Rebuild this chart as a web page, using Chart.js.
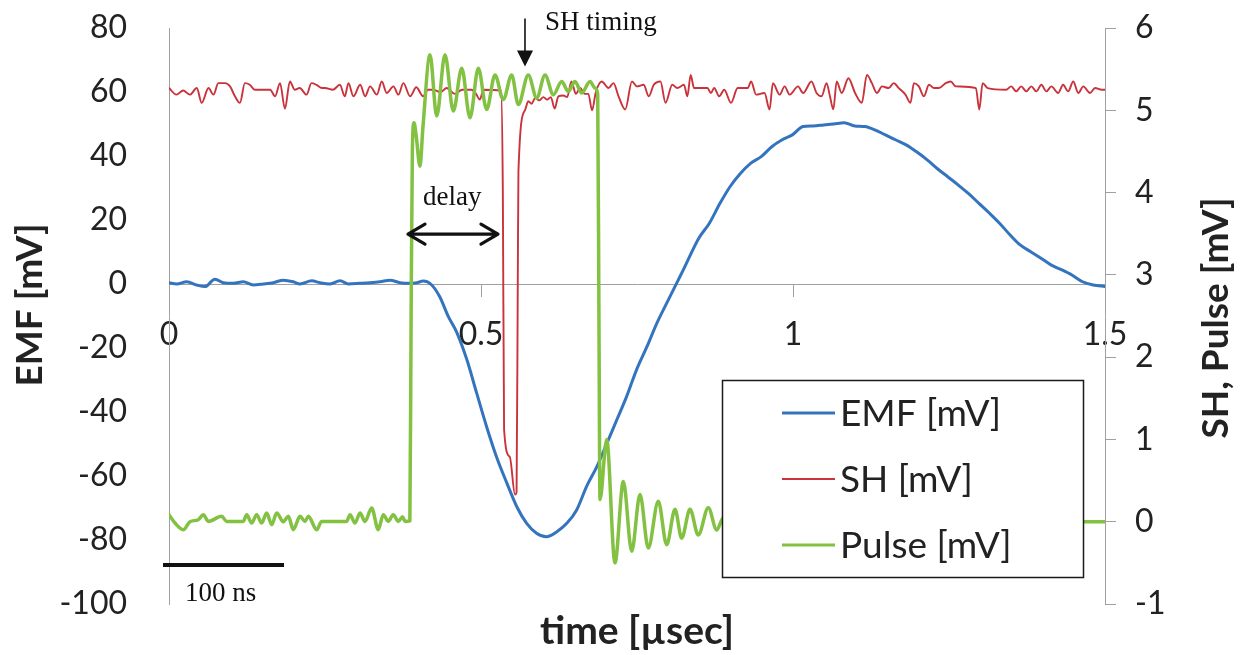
<!DOCTYPE html>
<html>
<head>
<meta charset="utf-8">
<script src="https://cdn.jsdelivr.net/npm/chart.js@4.4.1/dist/chart.umd.min.js"></script>
<style>
  html, body { margin: 0; padding: 0; background: #fff; }
  #wrap { width: 1246px; height: 655px; }
</style>
</head>
<body>
<div id="wrap"><canvas id="myChart" width="1246" height="655"></canvas></div>
<script>
'use strict'

// series names, in legend order
const seriesNames = ['EMF [mV]', 'SH [mV]', 'Pulse [mV]']

// [time µsec, mV]
const emfTrace = [
	[0, 0.4], [0.0123, 0.0], [0.0284, 0.7], [0.0444, -0.3], [0.0577, -0.8], [0.0737, 1.5], [0.087, 0.4],
	[0.1031, 0.2], [0.1191, 0.7], [0.1351, -0.3], [0.1511, 0.0], [0.1671, 0.4], [0.1832, 1.2], [0.1992, 0.7],
	[0.2099, 0.0], [0.2287, 1.0], [0.242, 0.4], [0.258, 0.0], [0.2741, 1.0], [0.2874, 0.0], [0.3061, 0.2],
	[0.3221, 0.4], [0.3381, 0.7], [0.3542, 1.2], [0.3702, 0.4], [0.3862, 0.2], [0.3969, 0.4], [0.4076, 0.9],
	[0.421, -0.3], [0.4339, -4], [0.4477, -10.2], [0.4606, -14.9], [0.4774, -23.7], [0.4932, -34.2],
	[0.509, -44.6], [0.5248, -54], [0.5416, -62.3], [0.5574, -69.6], [0.5732, -74.8], [0.589, -77.9],
	[0.6048, -79], [0.6216, -77.4], [0.6375, -74.8], [0.6533, -70.6], [0.6691, -63.3], [0.6859, -57],
	[0.7017, -49.8], [0.7175, -42.5], [0.7333, -35.2], [0.7491, -26.9], [0.7659, -19.6], [0.7817, -12.3],
	[0.7976, -6], [0.8134, 0.2], [0.8242, 4.4], [0.849, 14.3], [0.866, 19], [0.883, 25.2], [0.899, 30.4],
	[0.916, 34.6], [0.932, 37.7], [0.949, 39.8], [0.966, 42.9], [0.982, 45], [0.999, 46.6], [1.016, 49.2],
	[1.032, 49.4], [1.049, 49.7], [1.065, 50], [1.082, 50.4], [1.099, 49.4], [1.115, 49.2], [1.132, 48.1],
	[1.148, 46.6], [1.165, 45], [1.182, 43.4], [1.198, 41.3], [1.215, 38.8], [1.231, 36.1], [1.248, 33.5],
	[1.265, 30.9], [1.281, 28.3], [1.298, 25.2], [1.315, 22.1], [1.331, 19], [1.348, 15.3], [1.364, 12.2],
	[1.381, 10.1], [1.398, 8], [1.414, 5.9], [1.431, 4.4], [1.447, 2.8], [1.464, 0.7], [1.481, -0.3], [1.5, -0.8]
]

const shTrace = [
	[0, 5.27], [0.0119, 5.19], [0.0227, 5.24], [0.0336, 5.19], [0.0445, 5.27], [0.0524, 5.09], [0.0633, 5.27],
	[0.0712, 5.19], [0.0791, 5.33], [0.0899, 5.33], [0.0978, 5.29], [0.1057, 5.17], [0.1137, 5.09], [0.1216, 5.33],
	[0.1295, 5.31], [0.1375, 5.25], [0.1621, 5.25], [0.17, 5.17], [0.1779, 5.33], [0.1858, 5.02], [0.1937, 5.35],
	[0.2016, 5.25], [0.2095, 5.27], [0.2204, 5.19], [0.2283, 5.33], [0.2362, 5.31], [0.2451, 5.27], [0.25, 5.27],
	[0.2629, 5.25], [0.2738, 5.31], [0.2817, 5.17], [0.2876, 5.33], [0.2955, 5.17], [0.3064, 5.31], [0.3143, 5.17],
	[0.3222, 5.29], [0.3331, 5.19], [0.341, 5.35], [0.3489, 5.21], [0.3597, 5.29], [0.3676, 5.19], [0.3756, 5.33],
	[0.3864, 5.17], [0.3963, 5.28], [0.4072, 5.17], [0.415, 5.25], [0.423, 5.25], [0.435, 5.22], [0.445, 5.27],
	[0.458, 5.2], [0.47, 5.25], [0.485, 5.25], [0.492, 5.2], [0.498, 5.13], [0.504, 5.25], [0.532, 5.24],
	[0.535, 4.0], [0.537, 1.12], [0.546, 0.79], [0.5545, 0.33], [0.557, 0.36], [0.559, 3.0], [0.56, 4.26],
	[0.5705, 5.0], [0.5758, 5.11], [0.581, 5.08], [0.587, 5.15], [0.593, 5.12], [0.6, 5.16], [0.606, 5.13],
	[0.612, 5.16], [0.618, 5.02], [0.624, 5.17], [0.632, 5.18], [0.638, 5.16], [0.645, 5.35], [0.652, 5.2],
	[0.659, 5.27], [0.666, 5.2], [0.672, 5.2], [0.678, 5.0], [0.684, 5.22], [0.6935, 5.35], [0.7043, 5.27],
	[0.7123, 5.33], [0.7204, 5.17], [0.7312, 5.01], [0.7419, 5.35], [0.75, 5.29], [0.7607, 5.31], [0.7688, 5.17],
	[0.7769, 5.31], [0.7876, 5.35], [0.7957, 5.09], [0.8065, 5.31], [0.8145, 5.27], [0.8253, 5.31], [0.8307, 5.17],
	[0.836, 5.43], [0.8414, 5.27], [0.863, 5.27], [0.8683, 5.21], [0.8737, 5.27], [0.8817, 5.17], [0.8898, 5.25],
	[0.9006, 5.09], [0.9113, 5.27], [0.9275, 5.27], [0.9328, 5.35], [0.9409, 5.19], [0.9543, 5.21], [0.9624, 5.01],
	[0.9678, 5.33], [0.9785, 5.19], [0.9866, 5.29], [0.9947, 5.19], [1.0081, 5.29], [1.0162, 5.21], [1.0296, 5.35],
	[1.0377, 5.21], [1.0458, 5.17], [1.0538, 5.33], [1.0592, 5.17], [1.0646, 5.01], [1.07, 5.35], [1.078, 5.21],
	[1.0888, 5.39], [1.0995, 5.21], [1.1103, 5.09], [1.1184, 5.43], [1.1264, 5.33], [1.1345, 5.21], [1.1426, 5.29],
	[1.1533, 5.27], [1.1614, 5.33], [1.1695, 5.27], [1.1802, 5.19], [1.1883, 5.09], [1.1937, 5.33], [1.2017, 5.29],
	[1.2098, 5.17], [1.2179, 5.31], [1.2259, 5.27], [1.234, 5.27], [1.2447, 5.33], [1.2528, 5.35], [1.2609, 5.29],
	[1.2931, 5.27], [1.2985, 5.01], [1.3039, 5.33], [1.312, 5.27], [1.3415, 5.25], [1.3496, 5.29], [1.3577, 5.23],
	[1.3657, 5.29], [1.3738, 5.23], [1.3819, 5.29], [1.3899, 5.23], [1.398, 5.31], [1.4061, 5.23], [1.4141, 5.29],
	[1.4249, 5.21], [1.4329, 5.31], [1.441, 5.23], [1.4491, 5.35], [1.4572, 5.21], [1.4652, 5.29], [1.476, 5.21],
	[1.4841, 5.27], [1.4948, 5.25], [1.5, 5.25]
]

const pulseTrace = [
	[0, 0.085], [0.0096, -0.016], [0.0229, -0.097], [0.0336, 0.0], [0.0469, 0.024], [0.055, 0.085], [0.063, 0.004],
	[0.0844, 0.065], [0.0924, 0.004], [0.1191, 0.004], [0.1245, 0.085], [0.1325, -0.016], [0.1405, 0.085],
	[0.1485, -0.016], [0.1565, 0.105], [0.1646, -0.036], [0.1726, 0.105], [0.1832, 0.0], [0.1912, 0.065],
	[0.1992, -0.097], [0.2099, 0.065], [0.2179, 0.004], [0.2233, 0.065], [0.2366, -0.097], [0.2447, 0.004],
	[0.2847, 0.004], [0.2901, 0.085], [0.2981, -0.016], [0.3061, 0.105], [0.3141, 0.004], [0.3248, 0.166],
	[0.3354, -0.097], [0.3434, 0.085], [0.3514, 0.004], [0.3594, 0.085], [0.3675, 0.004], [0.3745, 0.06],
	[0.3782, 0.004], [0.386, 0.01], [0.388, 2.5], [0.39, 4.5], [0.3926, 4.85], [0.396, 4.7], [0.4022, 4.32],
	[0.407, 4.8], [0.4183, 5.675], [0.429, 4.93], [0.4423, 5.675], [0.4556, 4.99], [0.4691, 5.51], [0.4824, 4.91],
	[0.4957, 5.51], [0.5091, 5.01], [0.5224, 5.43], [0.5357, 5.13], [0.5492, 5.43], [0.5598, 5.07], [0.5758, 5.43],
	[0.5893, 5.15], [0.6026, 5.43], [0.6159, 5.19], [0.6293, 5.35], [0.6399, 5.23], [0.6506, 5.35], [0.6614, 5.21],
	[0.6747, 5.35], [0.6827, 5.27], [0.687, 5.2], [0.689, 2.5], [0.6907, 0.27], [0.7014, 1.0], [0.7147, -0.5],
	[0.7281, 0.49], [0.7415, -0.36], [0.7548, 0.33], [0.7681, -0.32], [0.7841, 0.25], [0.7976, -0.28],
	[0.8109, 0.15], [0.8216, -0.2], [0.8349, 0.15], [0.8482, -0.16], [0.8643, 0.17], [0.8777, -0.1],
	[0.8857, 0.02], [0.897, 0.12], [0.91, -0.06], [0.925, 0.08], [0.94, -0.03], [0.96, 0.05], [1.0, 0.0],
	[1.1, 0.02], [1.2, 0.0], [1.3, 0.01], [1.4, 0.0], [1.44, 0.0], [1.4466, 0.065], [1.4519, 0.085],
	[1.4599, 0.004], [1.5, 0.0]
]

// axis ranges / ticks
const timeRange = [0, 1.5], timeStep = 0.5
const emfRange = [-100, 80], emfStep = 20
const pulseRange = [-1, 6], pulseStep = 1

const colors = ['#3474be', '#c9333b', '#82c142']
const widths = [3, 1.9, 3.5]
const axisGray = '#a0a0a0'
const sansFont = "Lato, 'Open Sans', sans-serif"
const serifFont = "'Liberation Serif', 'DejaVu Serif', serif"

const toPoints = (trace) => trace.map(p => ({ x: p[0], y: p[1] }))

// keep the big tick padding from pushing the plot area in
function fixWidth(w) {
	return function (scale) {
		scale.width = w
		scale.paddingTop = 0
		scale.paddingBottom = 0
	}
}

// notes drawn on top of the plot, positioned in data units
const notesPlugin = {
	id: 'notes',
	afterDraw(chart) {
		const ctx = chart.ctx
		const x = chart.scales.x
		const y = chart.scales.y
		ctx.save()
		ctx.fillStyle = '#111'
		ctx.strokeStyle = '#111'

		// SH timing arrow
		const ax = x.getPixelForValue(0.5705)
		ctx.lineWidth = 1.6
		ctx.beginPath()
		ctx.moveTo(ax, y.getPixelForValue(83))
		ctx.lineTo(ax, y.getPixelForValue(72))
		ctx.stroke()
		const tip = y.getPixelForValue(68)
		ctx.beginPath()
		ctx.moveTo(ax - 8, tip - 16)
		ctx.lineTo(ax + 8, tip - 16)
		ctx.lineTo(ax, tip)
		ctx.closePath()
		ctx.fill()
		ctx.font = '27px ' + serifFont
		ctx.textBaseline = 'alphabetic'
		ctx.textAlign = 'left'
		ctx.fillText('SH timing', x.getPixelForValue(0.6026), y.getPixelForValue(79.5))

		// delay double arrow
		const d1 = x.getPixelForValue(0.3814), d2 = x.getPixelForValue(0.5288), dy = y.getPixelForValue(15.6)
		ctx.lineWidth = 3.2
		ctx.lineCap = 'round'
		ctx.lineJoin = 'round'
		ctx.beginPath()
		ctx.moveTo(d1 + 2, dy); ctx.lineTo(d2 - 2, dy)
		ctx.moveTo(d1 + 18, dy - 10); ctx.lineTo(d1 + 1, dy); ctx.lineTo(d1 + 18, dy + 10)
		ctx.moveTo(d2 - 18, dy - 10); ctx.lineTo(d2 - 1, dy); ctx.lineTo(d2 - 18, dy + 10)
		ctx.stroke()
		ctx.fillText('delay', x.getPixelForValue(0.407), y.getPixelForValue(24.7))

		// 100 ns bar
		ctx.lineWidth = 4
		ctx.lineCap = 'butt'
		const by = y.getPixelForValue(-87.8)
		ctx.beginPath()
		ctx.moveTo(x.getPixelForValue(-0.0096), by)
		ctx.lineTo(x.getPixelForValue(0.1843), by)
		ctx.stroke()
		ctx.fillText('100 ns', x.getPixelForValue(0.0256), y.getPixelForValue(-99))

		// axis titles, both reading bottom to top
		ctx.font = 'bold 37px ' + sansFont
		ctx.fillStyle = '#222'
		ctx.textAlign = 'center'
		ctx.textBaseline = 'middle'
		ctx.save()
		ctx.translate(30, 305)
		ctx.rotate(-Math.PI / 2)
		ctx.fillText('EMF [mV]', 0, 0)
		ctx.restore()
		ctx.translate(1216, 318)
		ctx.rotate(-Math.PI / 2)
		ctx.fillText('SH, Pulse [mV]', 0, 0)
		ctx.restore()

		// legend box
		ctx.save()
		ctx.fillStyle = '#fff'
		ctx.fillRect(722.5, 380.5, 361, 197)
		ctx.strokeStyle = '#1a1a1a'
		ctx.lineWidth = 1.5
		ctx.strokeRect(722.5, 380.5, 361, 197)
		ctx.font = '37px ' + sansFont
		ctx.textAlign = 'left'
		ctx.textBaseline = 'middle'
		chart.data.datasets.forEach((ds, i) => {
			const rowY = 413 + i * 66
			ctx.strokeStyle = ds.borderColor
			ctx.lineWidth = Math.min(ds.borderWidth, 3)
			ctx.beginPath()
			ctx.moveTo(782, rowY)
			ctx.lineTo(835, rowY)
			ctx.stroke()
			ctx.fillStyle = '#222'
			ctx.fillText(ds.label, 840, rowY + 1)
		})
		ctx.restore()
	}
}

const chartElement = document.querySelector('#myChart')
const chart = new Chart(chartElement, {
	type: 'line',
	data: {
		datasets: [
			{ label: seriesNames[0], data: toPoints(emfTrace), yAxisID: 'y', borderColor: colors[0], borderWidth: widths[0], order: 3 },
			{ label: seriesNames[1], data: toPoints(shTrace), yAxisID: 'y2', borderColor: colors[1], borderWidth: widths[1], order: 2 },
			{ label: seriesNames[2], data: toPoints(pulseTrace), yAxisID: 'y2', borderColor: colors[2], borderWidth: widths[2], order: 1 }
		]
	},
	options: {
		responsive: false,
		animation: false,
		devicePixelRatio: 1,
		layout: { padding: { top: 28, left: 0, right: 0, bottom: 0 } },
		elements: {
			point: { radius: 0 },
			line: { cubicInterpolationMode: 'monotone', borderJoinStyle: 'round', borderCapStyle: 'round', fill: false }
		},
		plugins: { legend: { display: false }, tooltip: { enabled: false } },
		scales: {
			x: {
				type: 'linear',
				position: { y: 0 },
				min: timeRange[0], max: timeRange[1],
				ticks: { stepSize: timeStep, padding: 19, maxRotation: 0, color: '#222', font: { family: sansFont, size: 32 }, callback: v => String(v) },
				grid: { drawOnChartArea: false, tickLength: 12, color: axisGray },
				border: { color: axisGray, width: 1, dash: [2, 1] }
			},
			xb: {
				type: 'linear',
				axis: 'x',
				position: 'bottom',
				min: timeRange[0], max: timeRange[1],
				ticks: { display: false },
				grid: { display: false },
				border: { display: false },
				title: { display: true, text: 'time [µsec]', color: '#222', font: { family: sansFont, size: 39, weight: 'bold' }, padding: { top: 0, bottom: 0 } },
				afterFit(scale) { scale.height = 51 }
			},
			y: {
				position: 'left',
				min: emfRange[0], max: emfRange[1],
				ticks: { stepSize: emfStep, padding: 42, color: '#222', font: { family: sansFont, size: 32 } },
				grid: { display: false, drawTicks: false },
				border: { color: axisGray, width: 1, dash: [2, 1] },
				afterFit: fixWidth(169)
			},
			y2: {
				position: 'right',
				min: pulseRange[0], max: pulseRange[1],
				ticks: { stepSize: pulseStep, padding: 19, color: '#222', font: { family: sansFont, size: 32 } },
				grid: { drawOnChartArea: false, tickLength: 11, color: axisGray },
				border: { color: axisGray, width: 1 },
				afterFit: fixWidth(141)
			}
		}
	},
	plugins: [notesPlugin]
})
</script>
</body>
</html>
